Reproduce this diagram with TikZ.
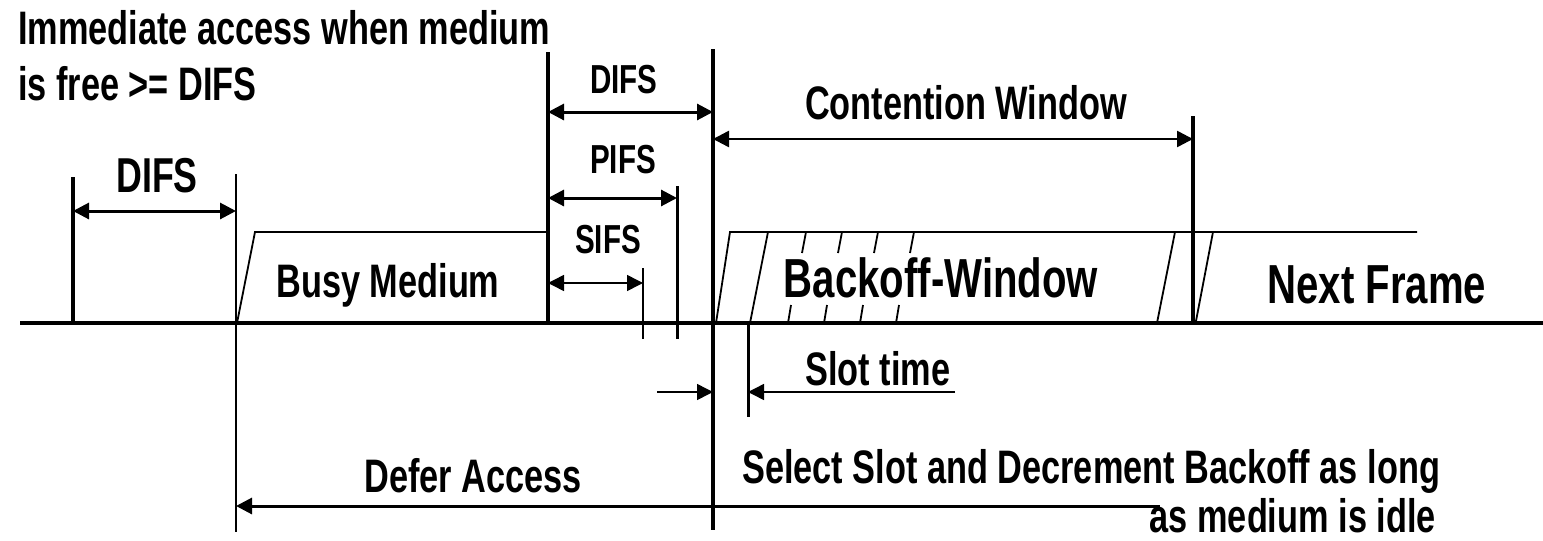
\documentclass[tikz,border=0pt]{standalone}
\usepackage{fontspec}
\setmainfont[FakeStretch=0.73]{Liberation Sans}
\usetikzlibrary{arrows.meta}
\tikzset{
  lbl/.style={font=\fontsize{47}{57}\selectfont\bfseries, inner sep=0pt, anchor=base},
  biglbl/.style={lbl, font=\fontsize{55}{64}\selectfont\bfseries},
  smalllbl/.style={lbl, font=\fontsize{40.5}{48}\selectfont\bfseries},
  axisline/.style={line width=4pt},
  thickbar/.style={line width=3.5pt},
  thinbar/.style={line width=1.5pt},
  framing/.style={line width=1.8pt},
  tip/.tip={Triangle[length=16pt,width=16pt]},
  dimarrow/.style={tip-tip, line width=3pt},
  thindim/.style={tip-tip, line width=1.5pt},
  leftarrow/.style={-tip, line width=3pt}
}
\begin{document}
\begin{tikzpicture}[x=1pt,y=-1pt]
\useasboundingbox (0,0) rectangle (1543,541);
\coordinate (axL) at (20,323);
\coordinate (axR) at (1543,323);
\draw[axisline] (axL) -- (axR);

\node[lbl, anchor=base west] (immediate) at (18,44) {Immediate access when medium};
\node[lbl, anchor=base west] (isfree) at (18,100) {is free >= DIFS};

\draw[thickbar] (73,177) -- (73,323);
\draw[thinbar] (236,174) -- (236,532);
\draw[dimarrow] (73,211) -- (236,211);
\node[lbl, font=\fontsize{49}{58}\selectfont\bfseries] (difsA) at (157,192) {DIFS};

\draw[framing] (237,323) -- (255,232) -- (548,232);
\node[lbl] (busy) at (388,297) {Busy Medium};

\draw[thickbar] (548,52) -- (548,323);
\draw[thickbar] (713,49) -- (713,530);
\draw[dimarrow] (548,112) -- (713,112);
\node[smalllbl] (difsB) at (624,93) {DIFS};
\draw[line width=3pt] (677,186) -- (677,339);
\draw[dimarrow] (548,198) -- (677,198);
\node[smalllbl] (pifs) at (623,173) {PIFS};
\draw[thinbar] (643,268) -- (643,339);
\draw[thindim] (548,283) -- (643,283);
\node[smalllbl] (sifs) at (608,253) {SIFS};

\draw[thickbar] (1193,116) -- (1193,323);
\draw[tip-tip, line width=2.5pt] (713,139) -- (1193,139);
\node[lbl] (contention) at (966,119) {Contention Window};

\draw[framing] (716,323) -- (730,232) -- (1417,232);
\draw[framing] (750,323) -- (768,232);
\foreach \i in {0,...,3} {
  \draw[framing] (802+36*\i,253) -- (806+36*\i,232);
  \draw[framing] (788+36*\i,323) -- (791+36*\i,305);
}
\draw[framing] (1157,323) -- (1175,232);
\draw[framing] (1196,321) -- (1213,232);
\node[biglbl] (backoff) at (941,297) {Backoff-Window};
\node[biglbl] (next) at (1377,303) {Next Frame};

\draw[line width=3pt] (748,323) -- (748,417);
\draw[-tip, line width=1.5pt] (657,392) -- (713,392);
\draw[-tip, line width=1.5pt] (955,392) -- (748,392);
\node[lbl] (slot) at (878,385) {Slot time};

\draw[leftarrow] (1160,506) -- (236,506);
\node[lbl] (defer) at (473,492) {Defer Access};
\node[lbl, anchor=base west] (select) at (742,483) {Select Slot and Decrement Backoff as long};
\node[lbl, anchor=base east] (idle) at (1436,532) {as medium is idle};
\end{tikzpicture}
\end{document}
